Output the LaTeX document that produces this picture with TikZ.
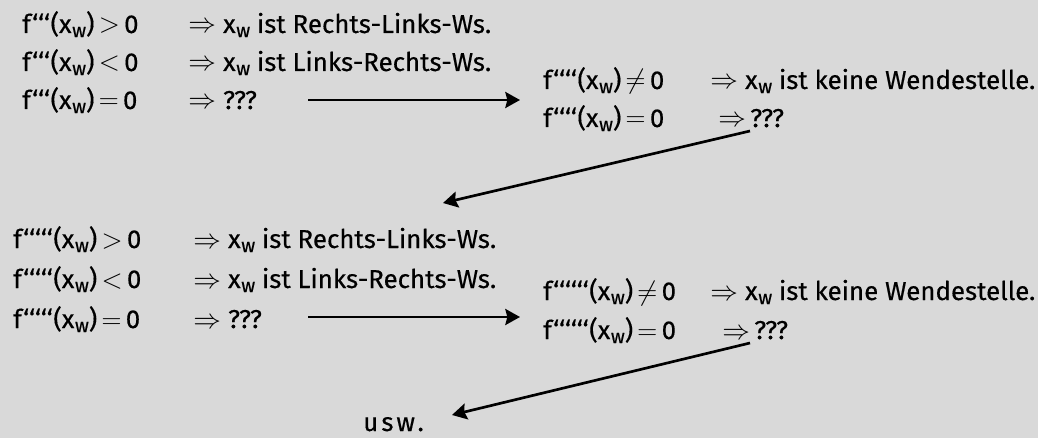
\documentclass[tikz,border=0pt]{standalone}
\usepackage{fontspec}
\setmainfont{Fira Sans}
\newfontfamily\fira{Fira Sans}[FakeBold=0.4]
\usetikzlibrary{arrows.meta}
\definecolor{bg}{HTML}{D9D9D9}
\newcommand{\fpr}[1]{f\kern1pt#1\kern0.5pt}
\newcommand{\xw}{x\kern0.5pt\raisebox{-0.3ex}{\fontsize{14.5}{14.5}\selectfont w}}
\tikzset{
  txt/.style={anchor=base west, inner sep=0pt, font=\fira\fontsize{19.4}{23}\selectfont},
  conn/.style={line width=2pt, -{Stealth[length=11pt,width=12pt,inset=1.5pt]}},
}
\begin{document}
\begin{tikzpicture}[x=0.75pt,y=-0.75pt]
\fill[bg] (0,0) rectangle (1038,438);
\useasboundingbox (0,0) rectangle (1038,438);
% block 1
\node[txt] (a1) at (22,33) {\fpr{‘‘‘}(\xw)\,$>$\,0};
\node[txt] (a1r) at (188,33) {$\Rightarrow$\;\xw\ ist Rechts-Links-Ws.};
\node[txt] (a2) at (22,71) {\fpr{‘‘‘}(\xw)\,$<$\,0};
\node[txt] (a2r) at (188,71) {$\Rightarrow$\;\xw\ ist Links-Rechts-Ws.};
\node[txt] (a3) at (22,109) {\fpr{‘‘‘}(\xw)\,$=$\,0};
\node[txt] (a3r) at (188,109) {$\Rightarrow$\;???};
% block 2
\node[txt] (b1) at (543,89) {\fpr{‘‘‘‘}(\xw)\,$\neq$\,0};
\node[txt] (b1r) at (710,89) {$\Rightarrow$\;\xw\ ist keine Wendestelle.};
\node[txt] (b2) at (543,127) {\fpr{‘‘‘‘}(\xw)\,$=$\,0};
\node[txt] (b2r) at (718,127) {$\Rightarrow$\,???};
% block 3
\node[txt] (c1) at (13,248) {\fpr{‘‘‘‘‘}(\xw)\,$>$\,0};
\node[txt] (c1r) at (193,248) {$\Rightarrow$\;\xw\ ist Rechts-Links-Ws.};
\node[txt] (c2) at (13,288) {\fpr{‘‘‘‘‘}(\xw)\,$<$\,0};
\node[txt] (c2r) at (193,288) {$\Rightarrow$\;\xw\ ist Links-Rechts-Ws.};
\node[txt] (c3) at (13,328) {\fpr{‘‘‘‘‘}(\xw)\,$=$\,0};
\node[txt] (c3r) at (193,328) {$\Rightarrow$\;???};
% block 4
\node[txt] (d1) at (543,300) {\fpr{‘‘‘‘‘‘}(\xw)\,$\neq$\,0};
\node[txt] (d1r) at (710,300) {$\Rightarrow$\;\xw\ ist keine Wendestelle.};
\node[txt] (d2) at (543,339) {\fpr{‘‘‘‘‘‘}(\xw)\,$=$\,0};
\node[txt] (d2r) at (722,339) {$\Rightarrow$\,???};
% usw
\node[txt] (usw) at (363,431) {\addfontfeature{LetterSpace=12}usw.};
% arrow ends
\coordinate (s1) at (308,100); \coordinate (e1) at (520,100);
\coordinate (s2) at (750,131); \coordinate (e2) at (443,203);
\coordinate (s3) at (308,317); \coordinate (e3) at (520,317);
\coordinate (s4) at (750,343); \coordinate (e4) at (452,415);
\draw[conn] (s1) -- (e1);
\draw[conn] (s2) -- (e2);
\draw[conn] (s3) -- (e3);
\draw[conn] (s4) -- (e4);
\end{tikzpicture}
\end{document}
